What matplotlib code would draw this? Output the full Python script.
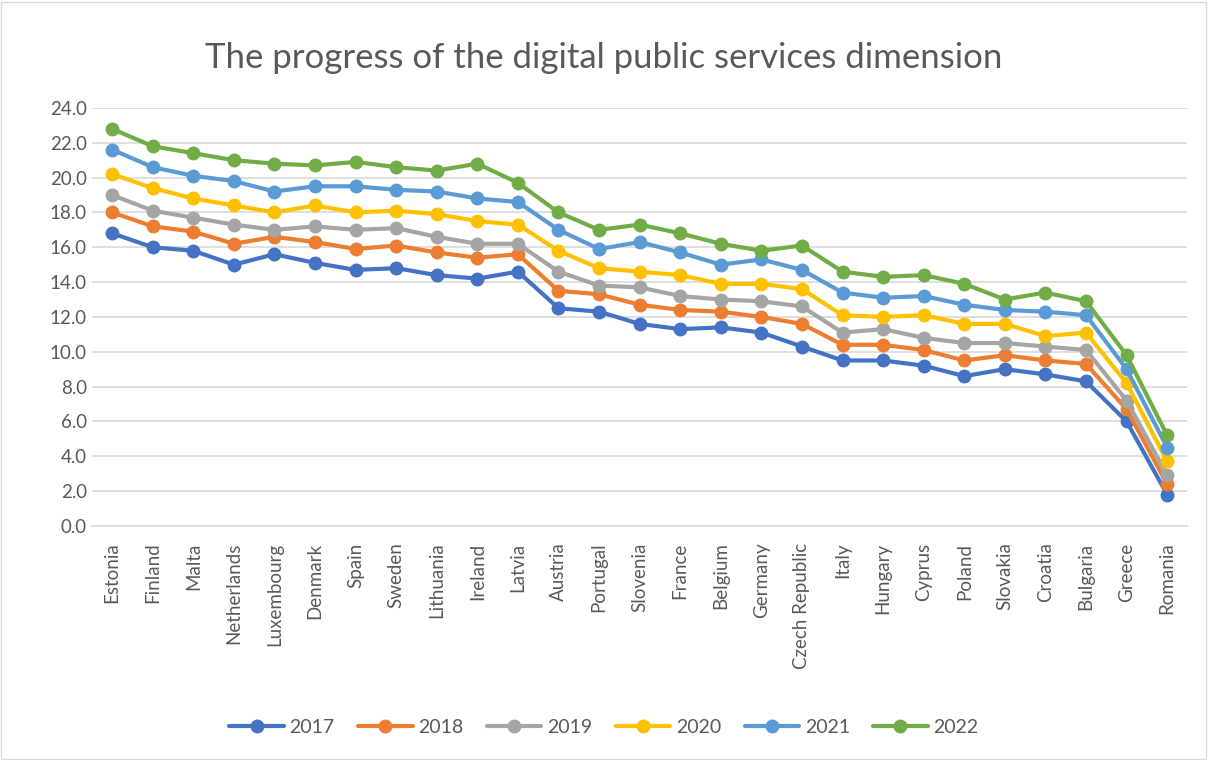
import numpy as np
import matplotlib
matplotlib.use("Agg")
import matplotlib.pyplot as plt
from matplotlib.patches import Rectangle

countries = ["Estonia", "Finland", "Malta", "Netherlands", "Luxembourg", "Denmark", "Spain",
             "Sweden", "Lithuania", "Ireland", "Latvia", "Austria", "Portugal", "Slovenia",
             "France", "Belgium", "Germany", "Czech Republic", "Italy", "Hungary", "Cyprus",
             "Poland", "Slovakia", "Croatia", "Bulgaria", "Greece", "Romania"]

y2017 = [16.8, 16.0, 15.8, 15.0, 15.6, 15.1, 14.7, 14.8, 14.4, 14.2, 14.6, 12.5, 12.3, 11.6,
         11.3, 11.4, 11.1, 10.3, 9.5, 9.5, 9.2, 8.6, 9.0, 8.7, 8.3, 6.0, 1.8]
y2018 = [18.0, 17.2, 16.9, 16.2, 16.6, 16.3, 15.9, 16.1, 15.7, 15.4, 15.6, 13.5, 13.3, 12.7,
         12.4, 12.3, 12.0, 11.6, 10.4, 10.4, 10.1, 9.5, 9.8, 9.5, 9.3, 6.7, 2.4]
y2019 = [19.0, 18.1, 17.7, 17.3, 17.0, 17.2, 17.0, 17.1, 16.6, 16.2, 16.2, 14.6, 13.8, 13.7,
         13.2, 13.0, 12.9, 12.6, 11.1, 11.3, 10.8, 10.5, 10.5, 10.3, 10.1, 7.2, 2.9]
y2020 = [20.2, 19.4, 18.8, 18.4, 18.0, 18.4, 18.0, 18.1, 17.9, 17.5, 17.3, 15.8, 14.8, 14.6,
         14.4, 13.9, 13.9, 13.6, 12.1, 12.0, 12.1, 11.6, 11.6, 10.9, 11.1, 8.2, 3.7]
y2021 = [21.6, 20.6, 20.1, 19.8, 19.2, 19.5, 19.5, 19.3, 19.2, 18.8, 18.6, 17.0, 15.9, 16.3,
         15.7, 15.0, 15.3, 14.7, 13.4, 13.1, 13.2, 12.7, 12.4, 12.3, 12.1, 9.0, 4.5]
y2022 = [22.8, 21.8, 21.4, 21.0, 20.8, 20.7, 20.9, 20.6, 20.4, 20.8, 19.7, 18.0, 17.0, 17.3,
         16.8, 16.2, 15.8, 16.1, 14.6, 14.3, 14.4, 13.9, 13.0, 13.4, 12.9, 9.8, 5.2]

years = ["2017", "2018", "2019", "2020", "2021", "2022"]
series = [y2017, y2018, y2019, y2020, y2021, y2022]
colors = ["#4472C4", "#ED7D31", "#A5A5A5", "#FFC000", "#5B9BD5", "#70AD47"]

plt.rcParams["font.family"] = ["Lato", "DejaVu Sans"]
txt = "#595959"

fig = plt.figure(figsize=(12.08, 7.6), dpi=100)
ax = fig.add_axes([0.076, 0.308, 0.907, 0.55])

x = np.arange(len(countries))
for vals, lab, c in zip(series, years, colors):
    ax.plot(x, vals, color=c, lw=3, marker="o", ms=9, label=lab, solid_capstyle="round")

ax.set_xlim(-0.5, len(countries) - 0.5)
ax.set_ylim(0, 24)
ax.set_yticks(np.arange(0, 24.1, 2))
ax.set_yticklabels([f"{v:.1f}" for v in np.arange(0, 24.1, 2)])
ax.set_xticks(x)
ax.set_xticklabels(countries, rotation=90)
ax.tick_params(length=0, labelsize=13.5, colors=txt)
ax.tick_params(axis="x", pad=12)
ax.grid(axis="y", color="#D9D9D9", lw=1.2)
ax.set_axisbelow(True)
for s in ["top", "right", "left"]:
    ax.spines[s].set_visible(False)
ax.spines["bottom"].set_color("#D9D9D9")
ax.spines["bottom"].set_linewidth(1.2)

fig.suptitle("The progress of the digital public services dimension", y=0.945,
             fontsize=25, color=txt, fontweight="normal")

fig.legend(loc="center", bbox_to_anchor=(0.5, 0.043), ncol=6, frameon=False,
           fontsize=14, labelcolor=txt, handlelength=2.8, columnspacing=1.2,
           handletextpad=0.3)

fig.patches.append(Rectangle((0.001, 0.001), 0.997, 0.997, transform=fig.transFigure,
                             fill=False, edgecolor="#D9D9D9", lw=1))

fig.savefig("out.png", dpi=100)
